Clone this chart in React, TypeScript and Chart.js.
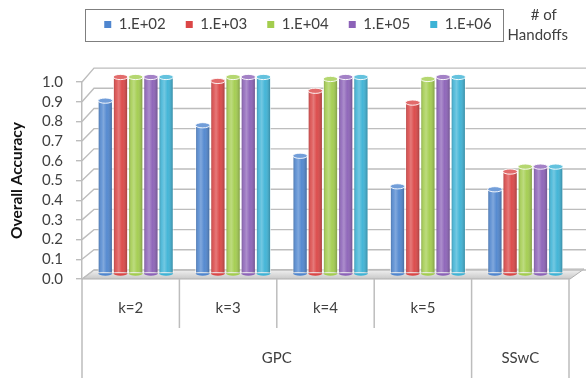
import React, { useEffect, useRef } from "react";
import { Chart, registerables } from "chart.js";

Chart.register(...registerables);

const categories = ["k=2", "k=3", "k=4", "k=5", ""];
const groupLabels = ["GPC", "SSwC"];
const groupSpans = [4, 1];
const seriesLabels = ["1.E+02", "1.E+03", "1.E+04", "1.E+05", "1.E+06"];
const s1e2 = [0.88, 0.755, 0.6, 0.445, 0.43];
const s1e3 = [1.0, 0.98, 0.93, 0.87, 0.52];
const s1e4 = [1.0, 1.0, 0.99, 0.99, 0.545];
const s1e5 = [1.0, 1.0, 1.0, 1.0, 0.545];
const s1e6 = [1.0, 1.0, 1.0, 1.0, 0.545];
const seriesColors = ["#4F86CF", "#DB4646", "#A3CD4E", "#8C62B8", "#3DB3D6"];
const yTitle = "Overall Accuracy";
const legendNote = ["# of", "Handoffs"];

const FONT = "Lato, 'Open Sans', sans-serif";
const TEXT = "#404040";
const GRID = "#bdbdbd";
const BAR_DX = 5;
const BAR_DY = -5;
const WALL_DX = 12;
const WALL_DY = -9;
const LEGEND_DX = 4;
const LEGEND_DY = -3;

function mix(hex: string, amt: number) {
  const n = parseInt(hex.slice(1), 16);
  const r = (n >> 16) & 255, g = (n >> 8) & 255, b = n & 255;
  const f = (c: number) => Math.round(c + (255 - c) * amt);
  return `rgb(${f(r)},${f(g)},${f(b)})`;
}

const scenePlugin = {
  id: "scene3d",
  beforeUpdate(chart: any) {
    const lg = chart.legend;
    if (lg && !lg.__patched) {
      const orig = lg.fit.bind(lg);
      lg.fit = function () {
        orig();
        this.height = 82;
      };
      const od = lg.draw.bind(lg);
      lg.draw = function () {
        const c = this.ctx;
        c.save();
        c.translate(LEGEND_DX, LEGEND_DY);
        od();
        c.restore();
      };
      lg.__patched = true;
    }
  },
  afterDraw(chart: any) {
    const ctx = chart.ctx;
    const { bottom: B } = chart.chartArea;
    const x = chart.scales.x;
    const hb = chart.legend.legendHitBoxes;
    if (hb && hb.length) {
      const first = hb[0];
      const last = hb[hb.length - 1];
      const top = first.top + LEGEND_DY;
      const bl = first.left + LEGEND_DX - 19;
      const br = last.left + last.width + LEGEND_DX + 11;
      const bt = top - 8;
      const bb = top + first.height + 9;
      ctx.save();
      ctx.strokeStyle = "#7f7f7f";
      ctx.lineWidth = 1;
      ctx.strokeRect(Math.round(bl) + 0.5, Math.round(bt) + 0.5, Math.round(br - bl), Math.round(bb - bt));
      ctx.fillStyle = TEXT;
      ctx.font = `15px ${FONT}`;
      ctx.textAlign = "center";
      ctx.textBaseline = "middle";
      const cx = br + 35;
      ctx.fillText(legendNote[0], cx + 6, bt + 6);
      ctx.fillText(legendNote[1], cx, bt + 26);
      ctx.restore();
    }
    const n = categories.length;
    const cw = x.getPixelForValue(1) - x.getPixelForValue(0);
    const bounds: number[] = [];
    for (let i = 0; i < n; i++) bounds.push(x.getPixelForValue(i) - cw / 2);
    bounds.push(x.getPixelForValue(n - 1) + cw / 2);
    const groupEdges = new Set<number>([0]);
    let acc = 0;
    groupSpans.forEach((s) => {
      acc += s;
      groupEdges.add(acc);
    });
    ctx.save();
    ctx.strokeStyle = GRID;
    ctx.lineWidth = 1.5;
    bounds.forEach((bx, i) => {
      const full = groupEdges.has(i);
      ctx.beginPath();
      ctx.moveTo(bx, B);
      ctx.lineTo(bx, full ? chart.height : B + 49);
      ctx.stroke();
    });
    ctx.fillStyle = TEXT;
    ctx.font = `15px ${FONT}`;
    ctx.textAlign = "center";
    ctx.textBaseline = "middle";
    categories.forEach((c, i) => {
      if (c) ctx.fillText(c, x.getPixelForValue(i), B + 29);
    });
    let start = 0;
    groupLabels.forEach((g, gi) => {
      const end = start + groupSpans[gi];
      const cx = (bounds[start] + bounds[end]) / 2;
      ctx.fillText(g, cx, B + 79);
      start = end;
    });
    ctx.restore();
  },
  beforeDatasetsDraw(chart: any) {
    const ctx = chart.ctx;
    const { left: L, right: R, bottom: B } = chart.chartArea;
    const y = chart.scales.y;
    ctx.save();
    ctx.beginPath();
    ctx.moveTo(L, B);
    ctx.lineTo(R + 1, B);
    ctx.lineTo(R + 1 + WALL_DX + 2, B + WALL_DY - 1);
    ctx.lineTo(L + WALL_DX, B + WALL_DY);
    ctx.closePath();
    const fg = ctx.createLinearGradient(0, B + WALL_DY, 0, B);
    fg.addColorStop(0, "#f0f0f0");
    fg.addColorStop(1, "#c8c8c8");
    ctx.fillStyle = fg;
    ctx.fill();
    ctx.strokeStyle = "#b0b0b0";
    ctx.lineWidth = 1;
    ctx.stroke();
    ctx.strokeStyle = GRID;
    ctx.lineWidth = 1.4;
    y.ticks.forEach((t: any) => {
      const yF = y.getPixelForValue(t.value);
      const yB = B + WALL_DY - (B - yF) * 1.025;
      ctx.beginPath();
      ctx.moveTo(L, yF);
      ctx.lineTo(L + WALL_DX, yB);
      ctx.lineTo(R + 17, yB);
      ctx.stroke();
    });
    ctx.restore();
    ctx.save();
    ctx.translate(BAR_DX, BAR_DY);
  },
  afterDatasetsDraw(chart: any) {
    const ctx = chart.ctx;
    chart.data.datasets.forEach((ds: any, di: number) => {
      const meta = chart.getDatasetMeta(di);
      const color = seriesColors[di];
      meta.data.forEach((el: any) => {
        const p = el.getProps(["x", "y", "base", "width"], true);
        const w = p.width;
        const left = p.x - w / 2;
        const top = Math.min(p.y, p.base);
        const bottom = Math.max(p.y, p.base);
        const g = ctx.createLinearGradient(left, 0, left + w, 0);
        g.addColorStop(0, "rgba(0,0,0,0.30)");
        g.addColorStop(0.22, "rgba(255,255,255,0.12)");
        g.addColorStop(0.38, "rgba(255,255,255,0.28)");
        g.addColorStop(0.6, "rgba(255,255,255,0.04)");
        g.addColorStop(1, "rgba(0,0,0,0.32)");
        ctx.fillStyle = g;
        ctx.fillRect(left + 1, top, w - 2, bottom - top);
        ctx.beginPath();
        ctx.ellipse(p.x, bottom, w / 2 - 0.5, 2.4, 0, 0, Math.PI);
        ctx.fillStyle = color;
        ctx.fill();
        ctx.beginPath();
        ctx.ellipse(p.x, top, w / 2 - 0.3, 2.6, 0, 0, Math.PI * 2);
        ctx.fillStyle = mix(color, 0.2);
        ctx.fill();
        ctx.strokeStyle = "rgba(255,255,255,0.9)";
        ctx.lineWidth = 1;
        ctx.stroke();
      });
    });
    ctx.restore();
  },
};

export default function App() {
  const ref = useRef<HTMLCanvasElement | null>(null);
  useEffect(() => {
    document.body.style.margin = "0";
    if (!ref.current) return;
    const series = [s1e2, s1e3, s1e4, s1e5, s1e6];
    const chart = new Chart(ref.current, {
      type: "bar",
      data: {
        labels: categories,
        datasets: series.map((d, i) => ({
          label: seriesLabels[i],
          data: d,
          backgroundColor: seriesColors[i],
          borderColor: "rgba(255,255,255,0.7)",
          borderWidth: 1,
          borderSkipped: false,
          categoryPercentage: 0.78,
          barPercentage: 1.0,
          clip: false as any,
        })),
      },
      options: {
        responsive: false,
        animation: false,
        layout: { padding: { top: 0, left: 0, right: 0, bottom: 99 } },
        plugins: {
          legend: {
            position: "top",
            labels: {
              boxWidth: 7,
              boxHeight: 7,
              padding: 20,
              color: TEXT,
              font: { family: FONT, size: 15 },
              generateLabels: (c: any) =>
                Chart.defaults.plugins.legend.labels.generateLabels(c).map((it: any) => ({
                  ...it,
                  strokeStyle: it.fillStyle,
                  lineWidth: 0,
                })),
            },
          },
          tooltip: { enabled: false },
        },
        scales: {
          x: {
            type: "category",
            display: false,
            offset: true,
          },
          y: {
            type: "linear",
            min: 0,
            max: 1,
            afterFit: (s: any) => {
              s.width = 82;
            },
            ticks: {
              stepSize: 0.1,
              autoSkip: false,
              padding: 13,
              color: TEXT,
              font: { family: FONT, size: 15 },
              callback: (v: any) => Number(v).toFixed(1),
            },
            grid: {
              drawOnChartArea: false,
              drawTicks: true,
              tickLength: 6,
              color: GRID,
              lineWidth: 1.4,
            },
            border: { display: true, color: GRID, width: 1.5 },
            title: {
              display: true,
              text: yTitle,
              color: "#111",
              font: { family: FONT, size: 15.5, weight: "bold" },
              padding: { top: 8, bottom: 0 },
            },
          },
          y2: {
            type: "linear",
            position: "right",
            display: true,
            ticks: { display: false },
            grid: { display: false },
            border: { display: false },
            afterFit: (s: any) => {
              s.width = 19;
            },
          },
        },
      } as any,
      plugins: [scenePlugin],
    });
    return () => chart.destroy();
  }, []);
  return (
    <div style={{ width: 588, height: 378 }}>
      <canvas ref={ref} width={588} height={378} style={{ display: "block" }} />
    </div>
  );
}
